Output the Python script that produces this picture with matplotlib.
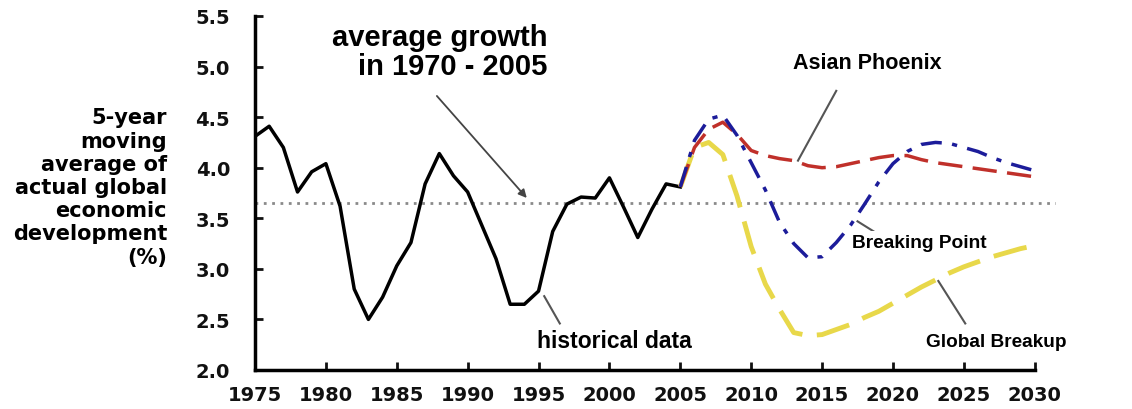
import numpy as np
import matplotlib
matplotlib.use('Agg')
import matplotlib.pyplot as plt

# historical 5-year moving average (%)
hist_years = list(range(1975, 2006))
hist_vals = [4.31, 4.41, 4.20, 3.76, 3.96, 4.04, 3.62, 2.80, 2.50, 2.72,
             3.03, 3.26, 3.84, 4.14, 3.92, 3.76, 3.43, 3.10, 2.65, 2.65,
             2.78, 3.37, 3.64, 3.71, 3.70, 3.90, 3.61, 3.31, 3.59, 3.84, 3.81]

# scenarios 2005-2030
scen_years = list(range(2005, 2031))
asian_phoenix = [3.81, 4.20, 4.38, 4.45, 4.33, 4.17, 4.12, 4.09, 4.07, 4.02,
                 4.00, 4.01, 4.04, 4.07, 4.10, 4.12, 4.12, 4.08, 4.05, 4.03,
                 4.01, 3.99, 3.97, 3.95, 3.93, 3.91]
breaking_point = [3.81, 4.27, 4.48, 4.52, 4.32, 4.05, 3.78, 3.46, 3.25, 3.11,
                  3.12, 3.26, 3.43, 3.64, 3.86, 4.04, 4.16, 4.23, 4.25, 4.24,
                  4.20, 4.16, 4.10, 4.05, 4.01, 3.97]
global_breakup = [3.81, 4.20, 4.25, 4.13, 3.72, 3.22, 2.85, 2.60, 2.37, 2.34,
                  2.35, 2.40, 2.45, 2.52, 2.58, 2.66, 2.74, 2.82, 2.89, 2.96,
                  3.02, 3.07, 3.12, 3.16, 3.20, 3.23]

avg_growth = 3.65

x_ticks = list(range(1975, 2031, 5))
y_ticks = [2.0, 2.5, 3.0, 3.5, 4.0, 4.5, 5.0, 5.5]

ylabel = '5-year\nmoving\naverage of\nactual global\neconomic\ndevelopment\n(%)'

fig = plt.figure(figsize=(11.32, 4.10), dpi=100)
ax = fig.add_axes([255/1132, 39/410, 801/1132, 354/410])
ax.set_xlim(1975, 2031.5)
ax.set_ylim(2.0, 5.5)

ax.axhline(avg_growth, color='#8a8a8a', lw=2, ls=(0, (1, 2)), zorder=1)
ax.plot(hist_years, hist_vals, color='black', lw=2.5, zorder=3)
ax.plot(scen_years, global_breakup, color='#e8d84a', lw=3.5,
        dashes=(7, 3), zorder=4)
ax.plot(scen_years, asian_phoenix, color='#c0302a', lw=2.5,
        dashes=(7, 3), zorder=5)
ax.plot(scen_years, breaking_point, color='#1c1c9a', lw=2.5,
        dashes=(6, 3, 1.5, 3), zorder=6)

for s in ['top', 'right']:
    ax.spines[s].set_visible(False)
for s in ['left', 'bottom']:
    ax.spines[s].set_linewidth(2.5)
ax.spines['bottom'].set_bounds(1975, 2030)

ax.set_xticks(x_ticks)
ax.set_yticks(y_ticks)
ax.set_yticklabels([f'{v:.1f}' for v in y_ticks])
ax.tick_params(direction='in', length=6, width=2, labelsize=14,
               colors='#111111')
ax.tick_params(axis='x', pad=11)
ax.tick_params(axis='y', pad=18)
for lab in ax.get_xticklabels() + ax.get_yticklabels():
    lab.set_fontweight('bold')
    lab.set_family('DejaVu Sans')

fig.text(167/1132, 1 - 188/410, ylabel, ha='right', va='center',
         fontsize=15, fontweight='bold', family='DejaVu Sans',
         linespacing=1.2)

font = dict(family='Liberation Sans', fontweight='bold', color='black')
ax.text(1995.6, 5.43, 'average growth\nin 1970 - 2005', ha='right', va='top',
        fontsize=21, linespacing=1.05, **font)
ax.annotate('', xy=(1994.3, 3.68), xytext=(1987.7, 4.73),
            arrowprops=dict(arrowstyle='-|>', color='#444444', lw=1.3,
                            mutation_scale=12))

ax.text(1994.9, 2.18, 'historical data', ha='left', va='bottom',
        fontsize=16.5, **font)
ax.plot([1995.4, 1996.5], [2.73, 2.46], color='#555555', lw=1.5)

ax.text(2018.2, 5.04, 'Asian Phoenix', ha='center', va='center',
        fontsize=15.5, **font)
ax.plot([2016.0, 2013.3], [4.76, 4.07], color='#555555', lw=1.5)

ax.text(2017.1, 3.26, 'Breaking Point', ha='left', va='center',
        fontsize=13.8, zorder=7,
        bbox=dict(facecolor='white', edgecolor='none', pad=2), **font)
ax.plot([2017.5, 2019.1], [3.47, 3.33], color='#555555', lw=1.5)

ax.text(2022.3, 2.28, 'Global Breakup', ha='left', va='center',
        fontsize=13.7, clip_on=False, **font)
ax.plot([2023.2, 2025.1], [2.88, 2.46], color='#555555', lw=1.5)

fig.savefig('out.png', dpi=100, facecolor='white')
